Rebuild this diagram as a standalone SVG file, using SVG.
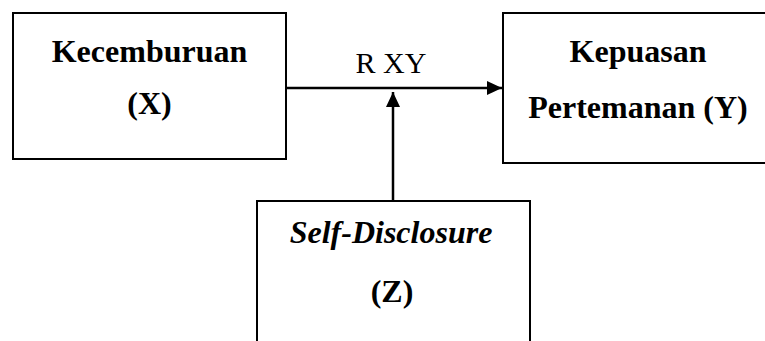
<svg xmlns="http://www.w3.org/2000/svg" width="765" height="341" viewBox="0 0 765 341">
<style>
.box{fill:#fff;stroke:#000;stroke-width:2}
.t{font-family:"Liberation Serif","Times New Roman",serif;font-size:32px;font-weight:bold;text-anchor:middle;fill:#000}
.it{font-style:italic}
.lbl{font-family:"Liberation Serif","Times New Roman",serif;font-size:30px;text-anchor:middle;fill:#000}
.ln{stroke:#000;stroke-width:2.5;fill:none}
</style>
<defs>
<marker id="ah" markerWidth="16" markerHeight="14" refX="15" refY="7" orient="auto" markerUnits="userSpaceOnUse">
<path d="M0,0 L15,7 L0,14 Z" fill="#000"/>
</marker>
</defs>
<rect width="765" height="341" fill="#fff"/>
<g id="nodeX">
<rect class="box" x="13" y="13" width="273" height="146"/>
<text class="t" x="149.5" y="62">Kecemburuan</text>
<text class="t" x="149.5" y="114">(X)</text>
</g>
<g id="nodeY">
<rect class="box" x="503" y="13" width="270" height="150"/>
<text class="t" x="638" y="62">Kepuasan</text>
<text class="t" x="638" y="118">Pertemanan (Y)</text>
</g>
<g id="nodeZ">
<rect class="box" x="257" y="201" width="273" height="160"/>
<text class="t it" x="391" y="243">Self-Disclosure</text>
<text class="t" x="392" y="302">(Z)</text>
</g>
<g id="connectors">
<line class="ln" x1="286" y1="88" x2="502" y2="88" marker-end="url(#ah)"/>
<line class="ln" x1="393" y1="201" x2="393" y2="92" marker-end="url(#ah)"/>
<text class="lbl" x="391" y="73">R XY</text>
</g>
</svg>
